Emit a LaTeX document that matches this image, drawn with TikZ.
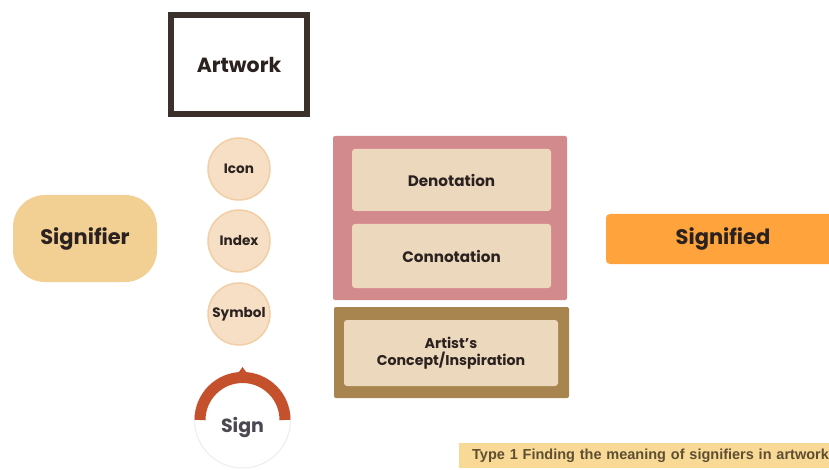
\documentclass[tikz,border=0pt]{standalone}
\usepackage{fontspec}
\setmainfont{Poppins}
\newfontfamily\capfont{Liberation Sans}

\definecolor{ink}{HTML}{2B2220}
\definecolor{framec}{HTML}{3B302B}
\definecolor{circfill}{HTML}{F6DFC4}
\definecolor{circline}{HTML}{F1CFA6}
\definecolor{pinkc}{HTML}{D38A8C}
\definecolor{beige}{HTML}{ECD8BD}
\definecolor{brownc}{HTML}{A8844E}
\definecolor{sandc}{HTML}{F2CF93}
\definecolor{orangec}{HTML}{FFA43C}
\definecolor{rustc}{HTML}{C4502C}
\definecolor{signink}{HTML}{4B4852}
\definecolor{capfill}{HTML}{F8DA96}
\definecolor{captext}{HTML}{5E4E32}

\tikzset{
  every node/.style={inner sep=0pt, text=ink, font=\bfseries},
  fsize/.style={font=\bfseries\fontsize{#1}{#1}\selectfont},
  framebox/.style={draw=framec, line width=6pt, fill=white,
    minimum width=136pt, minimum height=99pt, fsize=20.5},
  typecirc/.style={circle, fill=circfill, draw=circline, line width=1.5pt,
    minimum size=62pt, fsize=13.6},
  signring/.style={circle, fill=white, draw=black!7, line width=1pt,
    minimum size=96pt},
  signtext/.style={fsize=19, text=signink},
  outerpink/.style={rectangle, fill=pinkc, rounded corners=2pt,
    minimum width=234pt, minimum height=164pt},
  outerbrown/.style={rectangle, fill=brownc, rounded corners=2pt,
    minimum width=235pt, minimum height=91pt},
  innerbox/.style={rectangle, fill=beige, rounded corners=3pt,
    minimum width=199pt, minimum height=62pt, fsize=15.2, align=center},
  pillbox/.style={rectangle, fill=sandc, rounded corners=32pt,
    minimum width=144pt, minimum height=87pt, fsize=21},
  orangebox/.style={rectangle, fill=orangec, rounded corners=4pt,
    minimum width=234pt, minimum height=50pt, fsize=21, text=ink},
  captionbox/.style={rectangle, fill=capfill, minimum height=25pt,
    minimum width=390pt, inner xsep=13pt, anchor=west, align=left,
    text width=364pt, text=captext,
    font=\capfont\bfseries\fontsize{14.5}{16}\selectfont},
}

\begin{document}
\begin{tikzpicture}[x=1pt, y=-1pt]
  \useasboundingbox[fill=white] (0,0) rectangle (829,470);

  % framed artwork
  \node[framebox] (artwork) at (239,64.5) {Artwork};

  % the three kinds of sign
  \node[typecirc] (icon)   at (239,169) {Icon};
  \node[typecirc] (index)  at (239,241) {Index};
  \node[typecirc] (symbol) at (239,314) {Symbol};

  % sign badge with its arc and small peak
  \node[signring] (sign) at (242.5,420) {};
  \draw[rustc, line width=11pt] (sign.center) ++(-42.5pt,0pt) arc (180:0:42.5pt);
  \fill[rustc] (sign.center) ++(-5pt,46pt) -- ++(5pt,7pt) -- ++(5pt,-7pt) -- cycle;
  \node[signtext] (signlabel) at (242.5,427) {Sign};

  % levels of meaning
  \node[outerpink] (meaning) at (450,218) {};
  \node[innerbox] (denotation) at (451.5,180) {Denotation};
  \node[innerbox, minimum height=64pt] (connotation) at (451.5,256) {Connotation};

  \node[outerbrown] (artistframe) at (451.5,352.5) {};
  \node[innerbox, minimum width=214pt, minimum height=66pt,
    font=\bfseries\fontsize{14.2}{17}\selectfont]
    (artist) at (451,353) {Artist's\\Concept/Inspiration};

  % signifier and signified
  \node[pillbox] (signifier) at (85,238.5) {Signifier};
  \node[orangebox] (signified) at (723,239) {Signified};

  % caption
  \node[captionbox] (caption) at (459,455.5)
    {Type 1 Finding the meaning of signifiers in artwork};
\end{tikzpicture}
\end{document}
